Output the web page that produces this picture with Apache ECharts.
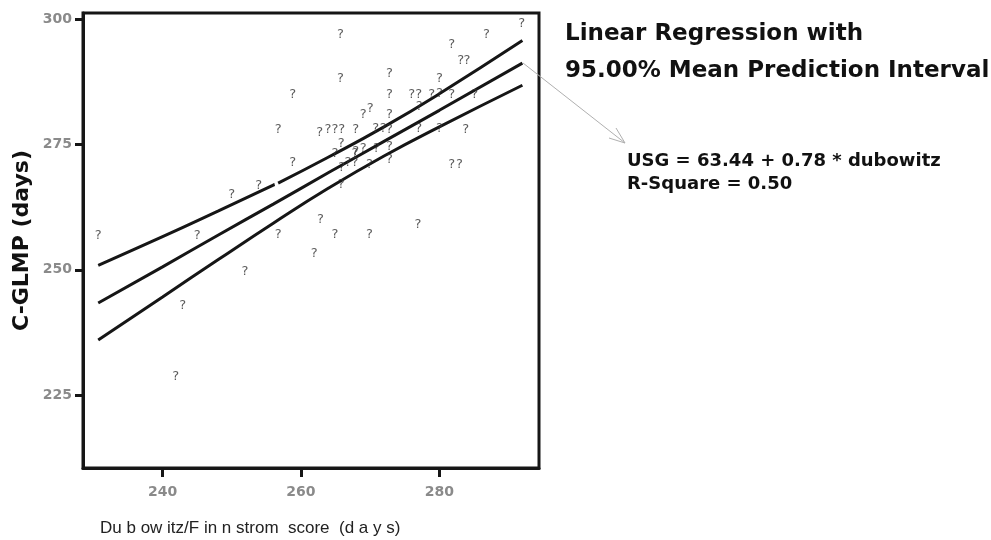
<!DOCTYPE html>
<html>
<head>
<meta charset="UTF-8">
<title>Linear Regression</title>
<script src="https://cdn.jsdelivr.net/npm/echarts@6/dist/echarts.min.js"></script>
<style>
  html, body { margin: 0; padding: 0; background: #fff; }
  #main { width: 991px; height: 540px; }
</style>
</head>
<body>
<div id="main"></div>
<script>
// scatter points (dubowitz score, C-GLMP)
var points = [
  [230.7, 256.8], [241.9, 228.7], [242.9, 242.9], [245.0, 256.8], [250.0, 264.9],
  [251.9, 249.7], [253.9, 266.8], [256.7, 257.0], [256.7, 277.9], [258.8, 284.9],
  [258.8, 271.3], [261.9, 253.2], [262.8, 260.0], [262.7, 277.4], [263.9, 277.9],
  [264.9, 277.9], [265.9, 277.9], [265.7, 296.8], [265.7, 288.2], [267.9, 277.9],
  [269.0, 281.0], [270.0, 282.2], [270.8, 278.2], [271.9, 278.2], [272.8, 277.9],
  [272.8, 289.2], [272.8, 284.9], [272.8, 281.0], [272.8, 274.6], [272.8, 271.9],
  [276.0, 284.9], [277.0, 284.9], [278.9, 284.9], [280.0, 285.2], [281.8, 285.0],
  [285.1, 284.9], [280.0, 288.2], [281.8, 294.8], [283.1, 291.8], [284.0, 291.8],
  [286.8, 296.8], [291.9, 299.1], [277.1, 282.5], [277.0, 278.2], [280.0, 278.2],
  [283.8, 277.9], [265.8, 275.2], [264.9, 273.2], [267.8, 273.2], [269.0, 274.2],
  [270.9, 274.2], [265.9, 270.3], [266.8, 271.3], [267.8, 271.3], [269.9, 270.9],
  [265.8, 266.9], [281.8, 270.9], [282.9, 270.9], [264.9, 257.0], [269.9, 257.0],
  [276.9, 259.0], [267.9, 273.6]
];

// fit line and 95% mean prediction band, read along x
var bandX   = [230.7, 240, 248, 256, 264, 272, 280, 292];
var fitY    = [243.4, 250.6, 256.9, 263.1, 269.4, 275.6, 281.8, 291.2];
var upperY  = [250.9, 256.6, 261.7, 266.9, 272.5, 278.5, 285.1, 295.7];
var lowerY  = [236.0, 244.6, 252.0, 259.3, 266.3, 272.7, 278.5, 286.8];

var xTicks = [240, 260, 280];
var yTicks = [225, 250, 275, 300];

function pairs(xs, ys) {
  return xs.map(function (x, i) { return [x, ys[i]]; });
}

// upper curve has a small break near 256.4
var upperData = pairs(bandX, upperY);
upperData.splice(4, 0, [256.6, '-']);
upperData.splice(4, 0, [256.2, 267.0]);
upperData.splice(6, 0, [256.7, 267.3]);

var lineStyle = { color: '#161616', width: 3 };
var tickFont = { color: '#8a8a8a', fontSize: 14, fontWeight: 'bold', fontFamily: 'DejaVu Sans' };

var chart = echarts.init(document.getElementById('main'));
chart.setOption({
  animation: false,
  backgroundColor: '#fff',
  grid: {
    left: 83, right: 452, top: 13, bottom: 72,
    show: true, borderColor: '#161616', borderWidth: 3
  },
  xAxis: {
    type: 'value', min: 228.5, max: 294.4,
    splitLine: { show: false },
    axisLine: { lineStyle: { color: '#161616', width: 3 } },
    axisTick: { customValues: xTicks, length: 9, lineStyle: { color: '#161616', width: 3 } },
    axisLabel: Object.assign({ customValues: xTicks, margin: 17 }, tickFont)
  },
  yAxis: {
    type: 'value', min: 210.5, max: 301.2,
    name: 'C-GLMP (days)', nameLocation: 'middle', nameGap: 50,
    nameTextStyle: { color: '#111', fontSize: 22, fontWeight: 'bold', fontFamily: 'DejaVu Sans' },
    splitLine: { show: false },
    axisLine: { lineStyle: { color: '#161616', width: 3 } },
    axisTick: { customValues: yTicks, length: 8, lineStyle: { color: '#161616', width: 3 } },
    axisLabel: Object.assign({ customValues: yTicks, margin: 11 }, tickFont)
  },
  graphic: [
    {
      type: 'text', left: 565, top: 23,
      style: { text: 'Linear Regression with', fill: '#111', font: 'bold 23px "DejaVu Sans"' }
    },
    {
      type: 'text', left: 565, top: 60,
      style: { text: '95.00% Mean Prediction Interval', fill: '#111', font: 'bold 23px "DejaVu Sans"' }
    },
    {
      type: 'text', left: 627, top: 152,
      style: { text: 'USG = 63.44 + 0.78 * dubowitz', fill: '#111', font: 'bold 18px "DejaVu Sans"' }
    },
    {
      type: 'text', left: 627, top: 175,
      style: { text: 'R-Square = 0.50', fill: '#111', font: 'bold 18px "DejaVu Sans"' }
    },
    {
      type: 'text', left: 100, top: 520,
      style: { text: 'Du b ow itz/F in n strom  score  (d a y s)', fill: '#222', font: '17px "Liberation Sans"' }
    },
    {
      type: 'polyline',
      shape: { points: [[523, 63], [625, 143]] },
      style: { stroke: '#b0b0b0', lineWidth: 1, fill: null }
    },
    {
      type: 'polyline',
      shape: { points: [[616, 128], [625, 143], [609, 138]] },
      style: { stroke: '#b0b0b0', lineWidth: 1, fill: null }
    }
  ],
  series: [
    {
      type: 'line', data: pairs(bandX, fitY), smooth: true, symbol: 'none',
      lineStyle: lineStyle
    },
    {
      type: 'line', data: upperData, smooth: true, symbol: 'none', connectNulls: false,
      lineStyle: lineStyle
    },
    {
      type: 'line', data: pairs(bandX, lowerY), smooth: true, symbol: 'none',
      lineStyle: lineStyle
    },
    {
      type: 'scatter', data: points, symbolSize: 1,
      itemStyle: { color: 'rgba(0,0,0,0)' },
      label: {
        show: true, position: 'inside', formatter: '?',
        color: '#333', fontSize: 13, fontFamily: 'DejaVu Sans'
      },
      z: 5
    }
  ]
});
</script>
</body>
</html>
